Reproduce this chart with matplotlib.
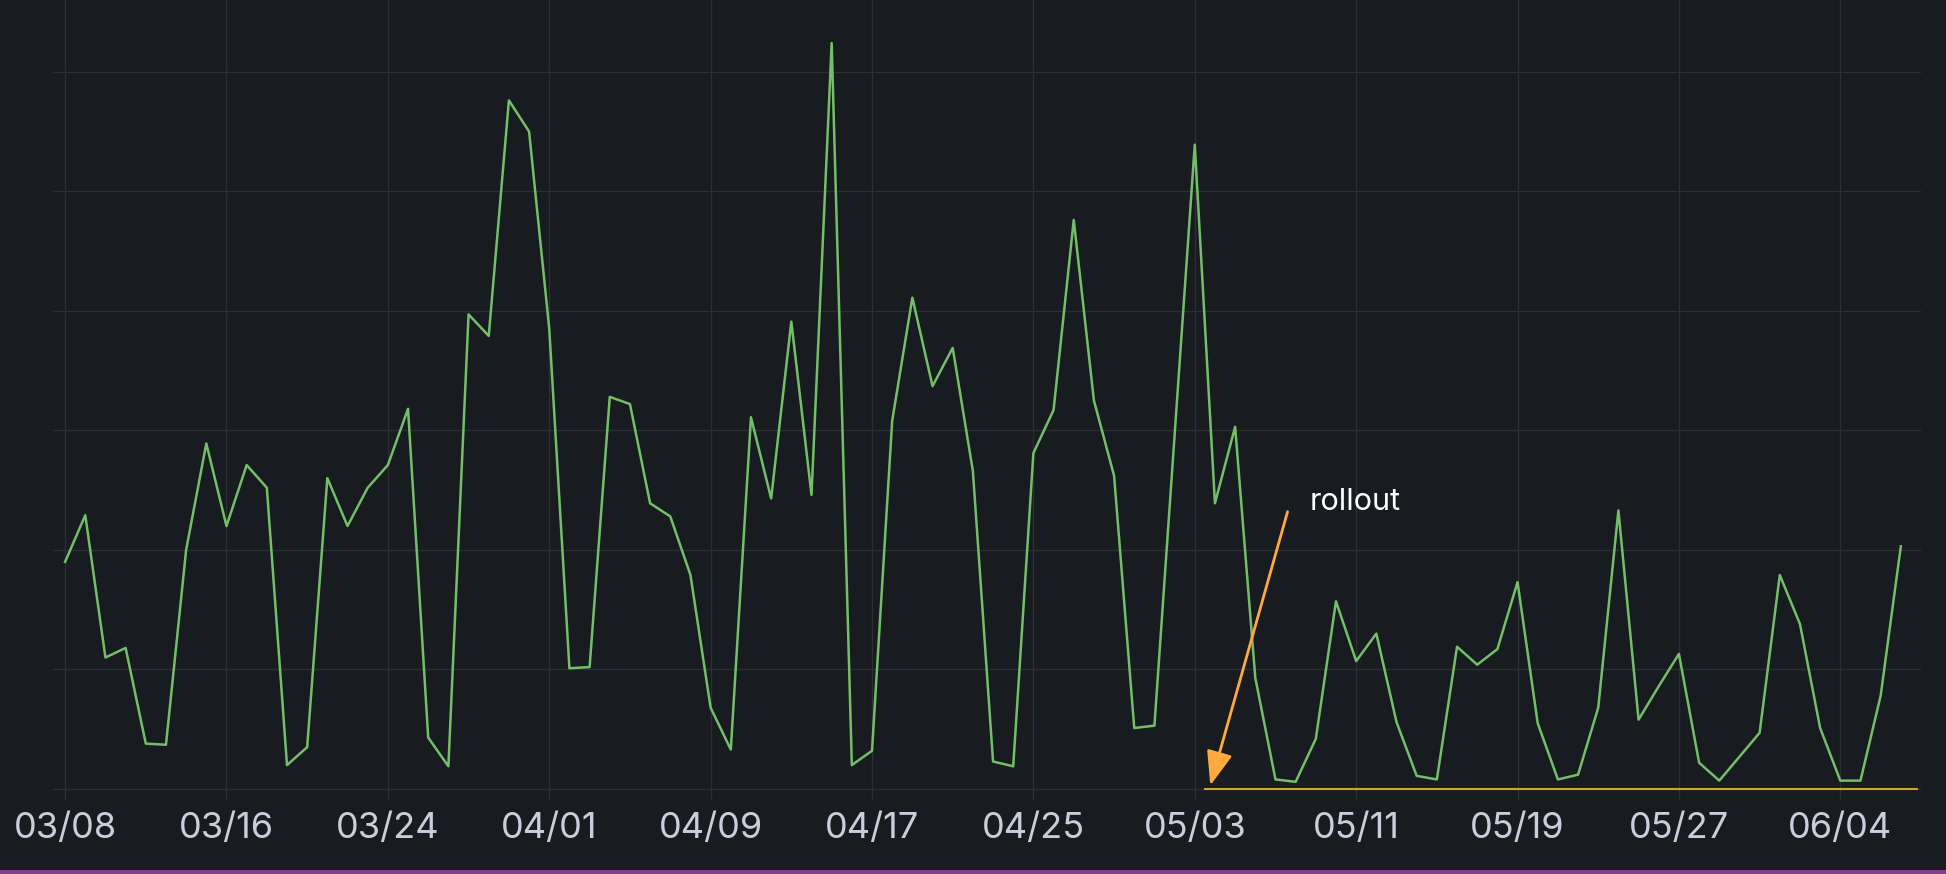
import numpy as np
import pandas as pd
import matplotlib
matplotlib.use("Agg")
import matplotlib.pyplot as plt
import matplotlib.dates as mdates
from matplotlib.patches import Rectangle

plt.rcParams['font.family'] = ['Inter', 'DejaVu Sans']

# daily values, 03/08 .. 06/07
start = "2024-03-08"
values = [
    1.90, 2.29, 1.10, 1.18, 0.38, 0.37, 2.00, 2.89, 2.20, 2.71,
    2.52, 0.20, 0.35, 2.60, 2.20, 2.52, 2.71, 3.18, 0.43, 0.19,
    3.97, 3.79, 5.76, 5.50, 3.85, 1.01, 1.02, 3.28, 3.22, 2.39,
    2.28, 1.79, 0.68, 0.33, 3.11, 2.43, 3.91, 2.46, 6.24, 0.20,
    0.32, 3.08, 4.11, 3.37, 3.69, 2.66, 0.23, 0.19, 2.81, 3.17,
    4.76, 3.25, 2.62, 0.51, 0.53, 2.96, 5.39, 2.39, 3.03, 0.93,
    0.08, 0.06, 0.42, 1.57, 1.07, 1.30, 0.56, 0.11, 0.08, 1.19,
    1.04, 1.17, 1.73, 0.55, 0.08, 0.12, 0.68, 2.33, 0.58, 0.86,
    1.13, 0.22, 0.07, 0.27, 0.47, 1.79, 1.38, 0.51, 0.07, 0.07,
    0.78, 2.03,
]
dates = pd.date_range(start, periods=len(values), freq="D")

rollout_date = pd.Timestamp("2024-05-03 12:00")
rollout_text = "rollout"
baseline = 0.0

bg = "#181b1f"
grid_c = "#2c2f34"

fig = plt.figure(figsize=(19.46, 8.74), dpi=100, facecolor=bg)
ax = fig.add_axes([53 / 1946, (874 - 800) / 874, (1921 - 53) / 1946, 800 / 874])
ax.set_facecolor(bg)

ax.plot(dates, values, color="#73bf69", lw=1.8, zorder=3)

x0 = dates[0] - pd.Timedelta(days=0.6)
x1 = dates[0] + pd.Timedelta(days=92.0)
ax.set_xlim(x0, x1)
ax.set_ylim(-0.092, 6.6)

# yellow baseline after rollout
ax.plot([rollout_date, dates[0] + pd.Timedelta(days=91.8)], [baseline, baseline],
        color="#d1a52a", lw=1.5, zorder=2)

# rollout annotation
ax.annotate("", xy=(dates[0] + pd.Timedelta(days=56.77), 0.03),
            xytext=(dates[0] + pd.Timedelta(days=60.6), 2.32),
            arrowprops=dict(arrowstyle="-|>,head_length=2.1,head_width=0.8",
                            mutation_scale=10, color="#ffaa3d", lw=2.0,
                            shrinkA=0, shrinkB=0),
            zorder=4)
ax.text(dates[0] + pd.Timedelta(days=61.7), 2.40, rollout_text, color="white",
        fontsize=22, va="center", ha="left", zorder=5)

ax.set_xticks(dates[::8])
ax.xaxis.set_major_formatter(mdates.DateFormatter("%m/%d"))
ax.set_yticks(range(7))
ax.set_yticklabels([])
ax.tick_params(axis="both", length=0)
ax.tick_params(axis="x", colors="#ccccdc", labelsize=26, pad=9)
ax.grid(True, color=grid_c, lw=1.0)
ax.set_axisbelow(True)
for s in ax.spines.values():
    s.set_visible(False)

# purple strip along the bottom
fig.patches.append(Rectangle((0, 0), 1, 4 / 874, transform=fig.transFigure,
                             facecolor="#7e4189", edgecolor="none"))

fig.savefig("out.png", dpi=100, facecolor=bg)
